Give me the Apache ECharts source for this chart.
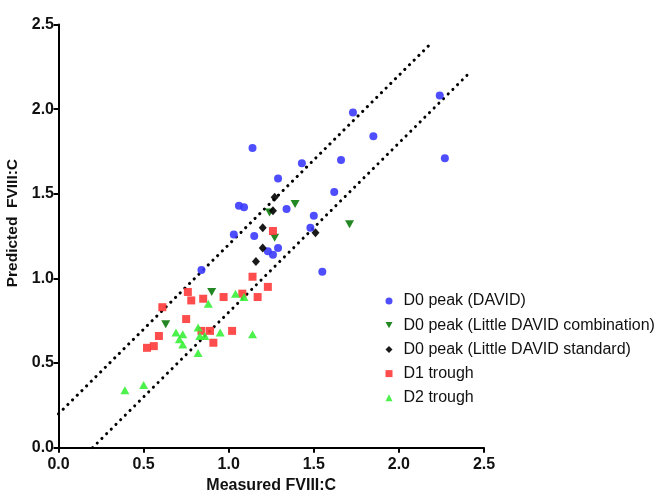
<!DOCTYPE html>
<html><head><meta charset="utf-8">
<script src="https://cdn.jsdelivr.net/npm/echarts@6/dist/echarts.min.js"></script>
<style>html,body{margin:0;padding:0;background:#fff}#c{width:656px;height:491px}</style>
</head><body><div id="c"></div>
<script>
var seriesNames = ['D0 peak (DAVID)','D0 peak (Little DAVID combination)','D0 peak (Little DAVID standard)','D1 trough','D2 trough'];
var xTicks = [0, 0.5, 1.0, 1.5, 2.0, 2.5];
var yTicks = [0, 0.5, 1.0, 1.5, 2.0, 2.5];
var d0David = [[1.14,1.77],[1.73,1.98],[2.24,2.08],[1.85,1.84],[2.27,1.71],[1.43,1.68],[1.66,1.70],[1.29,1.59],[1.62,1.51],[1.06,1.43],[1.09,1.42],[1.34,1.41],[1.50,1.37],[1.48,1.30],[1.03,1.26],[1.15,1.25],[1.29,1.18],[1.23,1.16],[1.26,1.14],[1.55,1.04],[0.84,1.05]];
var d0LittleComb = [[1.39,1.44],[1.24,1.39],[1.27,1.24],[1.71,1.32],[0.90,0.92],[0.63,0.73]];
var d0LittleStd = [[1.27,1.48],[1.26,1.40],[1.20,1.30],[1.51,1.27],[1.20,1.18],[1.16,1.10]];
var d1Trough = [[1.26,1.28],[1.14,1.01],[1.23,0.95],[0.76,0.92],[0.78,0.87],[0.85,0.88],[0.97,0.89],[1.08,0.91],[1.17,0.89],[0.61,0.83],[0.75,0.76],[0.84,0.69],[0.89,0.69],[1.02,0.69],[0.91,0.62],[0.59,0.66],[0.56,0.60],[0.52,0.59]];
var d2Trough = [[1.04,0.91],[1.09,0.89],[0.88,0.85],[0.69,0.68],[0.73,0.67],[0.71,0.64],[0.73,0.61],[0.82,0.71],[0.83,0.66],[0.86,0.66],[0.95,0.68],[1.14,0.67],[0.82,0.56],[0.39,0.34],[0.50,0.37]];
var upperLine = [[0,0.2],[2.18,2.38]];
var lowerLine = [[0.2,0],[2.4,2.2]];

var FONT = '"Liberation Sans", Arial, sans-serif';
var downTri = 'path://M0,0 L10,0 L5,9 Z';
var chart = echarts.init(document.getElementById('c'));
var dotLine = {type:[0.1,6.5], width:3, color:'#000', cap:'round'};
function sc(name, data, symbol, size, color){
  return {name:name, type:'scatter', data:data, symbol:symbol, symbolSize:size,
    itemStyle:{color:color, opacity:0.9}, z:3};
}
function fmt(v){ return v.toFixed(1); }
chart.setOption({
  animation:false,
  backgroundColor:'#fff',
  grid:{left:58.5, right:172, top:24.5, bottom:43.3, containLabel:false, outerBoundsMode:'none'},
  xAxis:{type:'value', min:0, max:2.5, interval:0.5,
    name:'Measured FVIII:C', nameLocation:'middle', nameGap:29,
    nameTextStyle:{fontFamily:FONT, fontSize:16, fontWeight:'bold', color:'#111'},
    axisLine:{show:true, onZero:false, lineStyle:{color:'#000', width:2}},
    axisTick:{show:true, length:5, lineStyle:{color:'#000', width:2}},
    axisLabel:{fontFamily:FONT, fontSize:16, fontWeight:'bold', color:'#111', margin:9, formatter:fmt},
    splitLine:{show:false}},
  yAxis:{type:'value', min:0, max:2.5, interval:0.5,
    name:'Predicted  FVIII:C', nameLocation:'middle', nameGap:32,
    nameTextStyle:{fontFamily:FONT, fontSize:15.5, fontWeight:'bold', color:'#111', padding:[0,0,0,26]},
    axisLine:{show:true, onZero:false, lineStyle:{color:'#000', width:2}},
    axisTick:{show:true, length:5, lineStyle:{color:'#000', width:2}},
    axisLabel:{fontFamily:FONT, fontSize:16, fontWeight:'bold', color:'#111', margin:4.5, formatter:fmt},
    splitLine:{show:false}},
  legend:{orient:'vertical', left:385.5, top:289, padding:0, itemGap:0.2,
    itemWidth:7, itemHeight:7,
    data:[
      {name:seriesNames[0], icon:'circle'},
      {name:seriesNames[1], icon:downTri},
      {name:seriesNames[2], icon:'diamond'},
      {name:seriesNames[3], icon:'rect'},
      {name:seriesNames[4], icon:'triangle'}],
    textStyle:{fontFamily:FONT, fontSize:16, color:'#111', lineHeight:24, padding:[0,0,0,6]}},
  series:[
    {type:'line', data:upperLine, symbol:'none', lineStyle:dotLine, silent:true, z:2},
    {type:'line', data:lowerLine, symbol:'none', lineStyle:dotLine, silent:true, z:2},
    sc(seriesNames[0], d0David, 'circle', 8, '#3b3bff'),
    sc(seriesNames[1], d0LittleComb, downTri, [9,8], '#0b7a0b'),
    sc(seriesNames[2], d0LittleStd, 'diamond', [8,9], '#000'),
    sc(seriesNames[3], d1Trough, 'rect', 8, '#ff3a3a'),
    sc(seriesNames[4], d2Trough, 'triangle', [9,8], '#38f038')
  ]
});
</script></body></html>
